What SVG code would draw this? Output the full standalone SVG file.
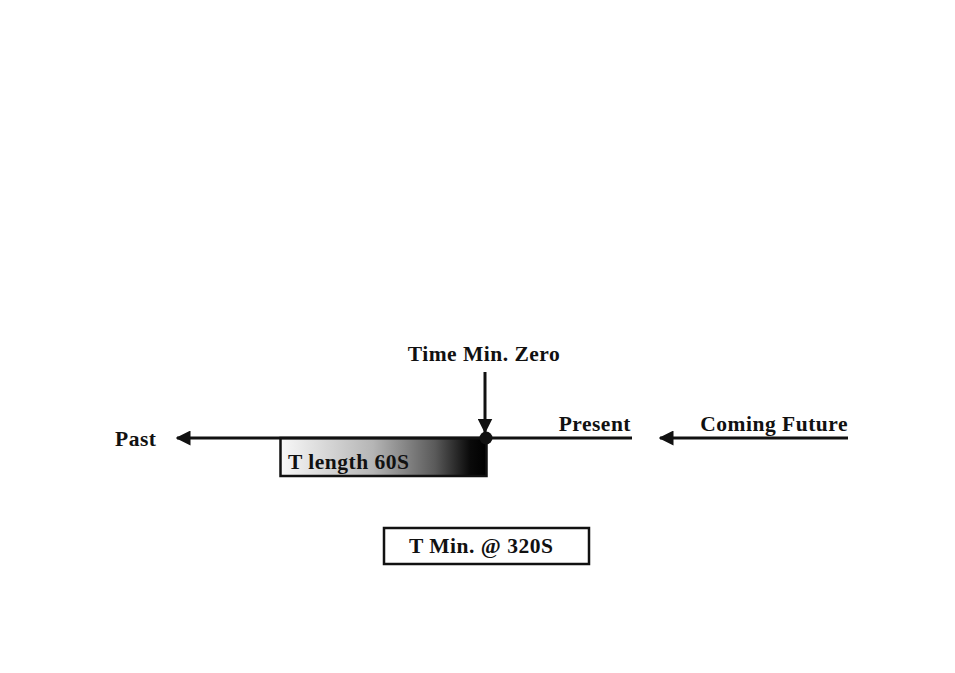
<svg xmlns="http://www.w3.org/2000/svg" width="955" height="673" viewBox="0 0 955 673">
<style>
text{font-family:"Liberation Serif","Times New Roman",serif;font-weight:bold;font-size:21.5px;letter-spacing:0.5px;fill:#111}
.ln{stroke:#111;stroke-width:3;fill:none}
</style>
<defs>
<marker id="ah" viewBox="0 0 10 10" refX="9" refY="5" markerWidth="5" markerHeight="5" orient="auto" markerUnits="strokeWidth">
<path d="M0,0 L10,5 L0,10 z" fill="#111"/>
</marker>
<linearGradient id="g" x1="0" y1="0" x2="1" y2="0">
<stop offset="0" stop-color="#f8f8f8"/>
<stop offset="0.45" stop-color="#b5b5b5"/>
<stop offset="0.75" stop-color="#5a5a5a"/>
<stop offset="0.92" stop-color="#0a0a0a"/>
<stop offset="1" stop-color="#000"/>
</linearGradient>
</defs>
<rect width="955" height="673" fill="#fff"/>
<g id="tlength">
<rect x="280.5" y="438" width="206" height="38" fill="url(#g)" stroke="#111" stroke-width="2.5"/>
<text x="288" y="469">T length 60S</text>
</g>
<g id="connectors">
<line class="ln" x1="486" y1="438" x2="177" y2="438" marker-end="url(#ah)"/>
<line class="ln" x1="486" y1="438" x2="632" y2="438"/>
<line class="ln" x1="848" y1="438" x2="660" y2="438" marker-end="url(#ah)"/>
<line class="ln" x1="485" y1="372" x2="485" y2="432" marker-end="url(#ah)"/>
</g>
<g id="zero">
<circle cx="486" cy="438" r="6.5" fill="#111"/>
<text x="484" y="361" text-anchor="middle">Time Min. Zero</text>
</g>
<g id="past"><text x="115" y="446">Past</text></g>
<g id="present"><text x="631" y="431" text-anchor="end">Present</text></g>
<g id="future"><text x="848" y="431" text-anchor="end">Coming Future</text></g>
<g id="tmin">
<rect x="384" y="528" width="205" height="36" fill="#fff" stroke="#111" stroke-width="2.5"/>
<text x="409" y="553">T Min. @ 320S</text>
</g>
</svg>
